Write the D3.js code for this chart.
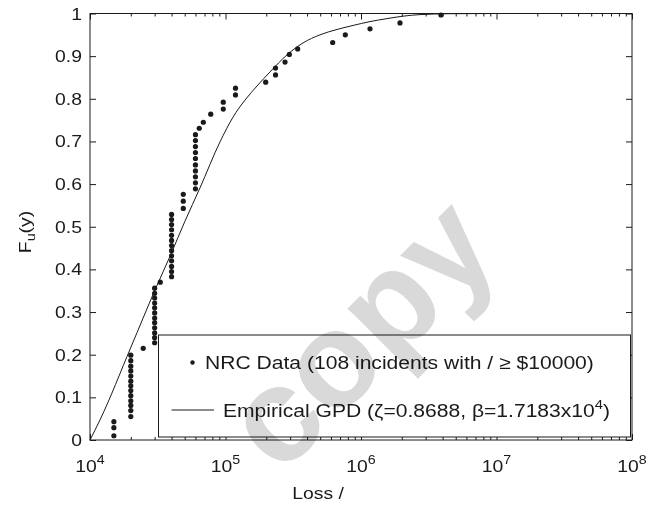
<!DOCTYPE html>
<html>
<head>
<meta charset="utf-8">
<script src="https://cdn.jsdelivr.net/npm/d3@7"></script>
<style>
  body { margin: 0; background: #fff; }
  svg text { font-family: "Liberation Sans", Arial, Helvetica, sans-serif; fill: #1a1a1a; }
</style>
</head>
<body>
<svg id="chart" width="659" height="509"></svg>
<script>
// Incident losses (USD) with their empirical cumulative fraction
const lossValues = [
  15000, 15000, 15000,
  20000, 20000, 20000, 20000, 20000, 20000, 20000, 20000, 20000, 20000, 20000, 20000, 20000,
  24700,
  30000, 30000, 30000, 30000, 30000, 30000, 30000, 30000, 30000, 30000, 30000, 30000,
  33000,
  40000, 40000, 40000, 40000, 40000, 40000, 40000, 40000, 40000, 40000, 40000, 40000, 40000,
  48800, 48800, 48800,
  60000, 60000, 60000, 60000, 60000, 60000, 60000, 60000, 60000, 60000,
  64000, 68600, 77800, 96300, 96300, 118500, 118500,
  198000, 234000, 234000, 275000, 296000, 341000,
  618000, 766000, 1165000, 1940000, 3890000
];
const cdfValues = [
  0.010, 0.029, 0.043,
  0.055, 0.069, 0.081, 0.092, 0.104, 0.116, 0.127, 0.138, 0.150, 0.162, 0.173, 0.186, 0.199,
  0.215,
  0.228, 0.240, 0.251, 0.263, 0.275, 0.286, 0.298, 0.310, 0.321, 0.333, 0.344, 0.356,
  0.370,
  0.383, 0.395, 0.407, 0.420, 0.432, 0.444, 0.456, 0.468, 0.480, 0.493, 0.505, 0.517, 0.529,
  0.543, 0.560, 0.576,
  0.589, 0.603, 0.617, 0.631, 0.645, 0.660, 0.674, 0.688, 0.702, 0.716,
  0.731, 0.745, 0.764, 0.776, 0.792, 0.809, 0.825,
  0.839, 0.856, 0.872, 0.886, 0.904, 0.917,
  0.932, 0.950, 0.964, 0.978, 0.9965
];

// Fitted GPD curve, sampled along the loss axis
const gpdLoss = [
  1e4, 1.185e4, 2.007e4, 3.02e4, 3.96e4, 5.02e4, 6.48e4, 9.11e4,
  1.136e5, 1.393e5, 1.708e5, 2.13e5, 2.844e5, 3.733e5, 4.983e5, 6.652e5, 8.73e5,
  1.165e6, 1.556e6, 2.042e6, 2.725e6, 4.54e6, 1e7
];
const gpdCdf = [
  0, 0.047, 0.218, 0.352, 0.436, 0.513, 0.591, 0.699,
  0.757, 0.797, 0.830, 0.863, 0.903, 0.931, 0.950, 0.9625, 0.972,
  0.981, 0.988, 0.9937, 0.9974, 0.9995, 1.0
];

// Axis ticks
const xTickExponents = [4, 5, 6, 7, 8];
const yTickValues = [0, 0.1, 0.2, 0.3, 0.4, 0.5, 0.6, 0.7, 0.8, 0.9, 1];
const yTickLabels = ["0", "0.1", "0.2", "0.3", "0.4", "0.5", "0.6", "0.7", "0.8", "0.9", "1"];

const ink = "#1a1a1a";
const stretch = 1.14; // glyphs are drawn a little wider than the face's natural width

const svg = d3.select("#chart");
const plot = { left: 90, right: 632, top: 13.5, bottom: 440 };

const x = d3.scaleLog().domain([1e4, 1e8]).range([plot.left, plot.right]);
const y = d3.scaleLinear().domain([0, 1]).range([plot.bottom, plot.top]);

// tick marks on all four sides, pointing inward
const majorX = xTickExponents.map(e => Math.pow(10, e));
const minorX = [];
for (let e = 4; e < 8; e++) for (let m = 2; m <= 9; m++) minorX.push(m * Math.pow(10, e));

function tickGroup(axis, tx, ty) {
  svg.append("g")
    .attr("transform", `translate(${tx},${ty})`)
    .attr("color", ink)
    .call(axis)
    .call(g => g.select(".domain").remove())
    .call(g => g.selectAll("line").attr("stroke-width", 1));
}
tickGroup(d3.axisBottom(x).tickValues(minorX).tickSize(-3).tickFormat(""), 0, plot.bottom);
tickGroup(d3.axisBottom(x).tickValues(majorX).tickSize(-6).tickFormat(""), 0, plot.bottom);
tickGroup(d3.axisTop(x).tickValues(minorX).tickSize(-3).tickFormat(""), 0, plot.top);
tickGroup(d3.axisTop(x).tickValues(majorX).tickSize(-6).tickFormat(""), 0, plot.top);
tickGroup(d3.axisLeft(y).tickValues(yTickValues).tickSize(-6).tickFormat(""), plot.left, 0);
tickGroup(d3.axisRight(y).tickValues(yTickValues).tickSize(-6).tickFormat(""), plot.right, 0);

// plot frame
svg.append("rect")
  .attr("x", plot.left).attr("y", plot.top)
  .attr("width", plot.right - plot.left).attr("height", plot.bottom - plot.top)
  .attr("fill", "none").attr("stroke", ink).attr("stroke-width", 1);

// y tick labels
svg.append("g").selectAll("text")
  .data(yTickValues)
  .join("text")
  .attr("transform", d => `translate(${plot.left - 8},${y(d) + 6}) scale(${stretch},1)`)
  .attr("text-anchor", "end")
  .attr("font-size", 17)
  .text((d, i) => yTickLabels[i]);

// x tick labels as powers of ten
const xLabels = svg.append("g").selectAll("text")
  .data(xTickExponents)
  .join("text")
  .attr("transform", e => `translate(${x(Math.pow(10, e))},${plot.bottom + 32}) scale(${stretch},1)`)
  .attr("text-anchor", "middle")
  .attr("font-size", 17);
xLabels.append("tspan").text("10");
xLabels.append("tspan").attr("dy", -8).attr("font-size", 12.5).text(e => e);

// axis titles
svg.append("text")
  .attr("transform", `translate(318,499) scale(${stretch},1)`)
  .attr("text-anchor", "middle")
  .attr("font-size", 17)
  .text("Loss /");

const yTitle = svg.append("text")
  .attr("transform", `translate(31,232) rotate(-90) scale(${stretch},1)`)
  .attr("text-anchor", "middle")
  .attr("font-size", 17);
yTitle.append("tspan").text("F");
yTitle.append("tspan").attr("dy", 4).attr("font-size", 12.5).text("u");
yTitle.append("tspan").attr("dy", -4).text("(y)");

// fitted curve
const curve = d3.line()
  .x(d => x(d[0]))
  .y(d => y(d[1]))
  .curve(d3.curveMonotoneX);
svg.append("path")
  .datum(d3.zip(gpdLoss, gpdCdf))
  .attr("d", curve)
  .attr("fill", "none")
  .attr("stroke", ink)
  .attr("stroke-width", 1);

// incident points
svg.append("g").selectAll("circle")
  .data(d3.zip(lossValues, cdfValues))
  .join("circle")
  .attr("cx", d => x(d[0]))
  .attr("cy", d => y(d[1]))
  .attr("r", 2.6)
  .attr("fill", ink);

// legend
const legend = svg.append("g");
legend.append("rect")
  .attr("x", 158.5).attr("y", 335)
  .attr("width", 472).attr("height", 102)
  .attr("fill", "#fff").attr("stroke", ink).attr("stroke-width", 1);
legend.append("circle").attr("cx", 192.5).attr("cy", 362.5).attr("r", 2.2).attr("fill", ink);
legend.append("text")
  .attr("transform", `translate(205,368.5) scale(${stretch},1)`)
  .attr("font-size", 18.5)
  .text("NRC Data (108 incidents with / \u2265 $10000)");
legend.append("line")
  .attr("x1", 171.5).attr("x2", 214).attr("y1", 410).attr("y2", 410)
  .attr("stroke", ink).attr("stroke-width", 1);
const l2 = legend.append("text")
  .attr("transform", `translate(223,417) scale(${stretch},1)`)
  .attr("font-size", 18.5);
l2.append("tspan").text("Empirical GPD (\u03B6=0.8688, \u03B2=1.7183x10");
l2.append("tspan").attr("dy", -8).attr("font-size", 13).text("4");
l2.append("tspan").attr("dy", 8).text(")");

// watermark
svg.append("text")
  .attr("transform", "translate(358,332) rotate(-45)")
  .attr("text-anchor", "middle")
  .attr("dy", "0.35em")
  .attr("font-size", 135)
  .attr("font-weight", "bold")
  .style("fill", "#d9d9d9")
  .style("mix-blend-mode", "multiply")
  .text("copy");
</script>
</body>
</html>
